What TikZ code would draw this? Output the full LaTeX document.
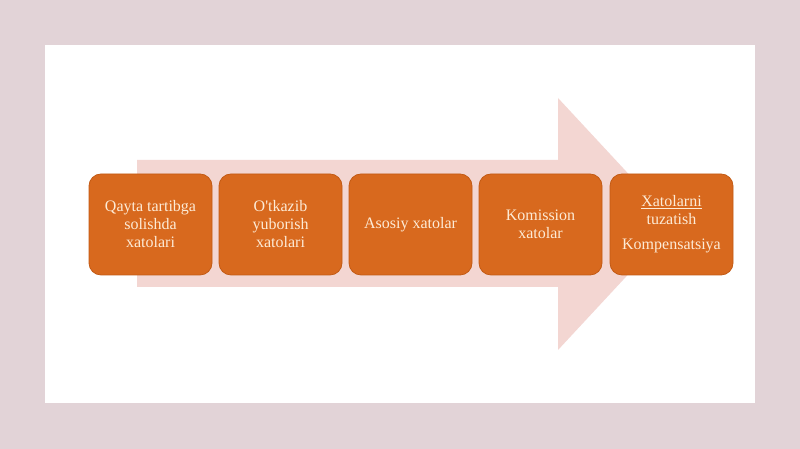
\documentclass[tikz,border=0pt]{standalone}
\usepackage{fontspec}
\setmainfont{Liberation Serif}
\usepackage{tikz}
\usetikzlibrary{positioning}

\definecolor{pagebg}{HTML}{E2D3D7}
\definecolor{arrowfill}{HTML}{F3D6D2}
\definecolor{boxfill}{HTML}{D8691E}
\definecolor{boxline}{HTML}{C25A14}
\definecolor{boxtext}{HTML}{FDEBD6}

\tikzset{
  stagebox/.style={draw=boxline,line width=0.8bp,fill=boxfill,rounded corners=12bp,
    minimum width=123bp,minimum height=101bp,inner sep=2bp,
    align=center,text=boxtext,font=\fontsize{16bp}{18bp}\selectfont},
}

\begin{document}
\begin{tikzpicture}[>=latex,line join=bevel,x=1bp,y=1bp]
%%
\fill [pagebg] (0,0) rectangle (800,449);
\fill [white] (45,46) rectangle (755,404);
\useasboundingbox (0,0) rectangle (800,449);
%
\fill [arrowfill] (137,289) -- (558,289) -- (558,351) -- (675,225) -- (558,99) -- (558,162) -- (137,162) -- cycle;
%
\node (node_0) at (150.5bp,224.5bp) [stagebox] {Qayta tartibga\\ solishda\\ xatolari};
  \node (node_1) at (280.5bp,224.5bp) [stagebox] {O\textquotesingle tkazib\\ yuborish\\ xatolari};
  \node (node_2) at (410.5bp,224.5bp) [stagebox] {Asosiy xatolar};
  \node (node_3) at (540.5bp,224.5bp) [stagebox] {Komission\\ xatolar};
  \node (node_4) at (671.5bp,224.5bp) [stagebox] {\underline{Xatolarni}\\ tuzatish\\[7bp] Kompensatsiya};
%
\end{tikzpicture}
\end{document}
